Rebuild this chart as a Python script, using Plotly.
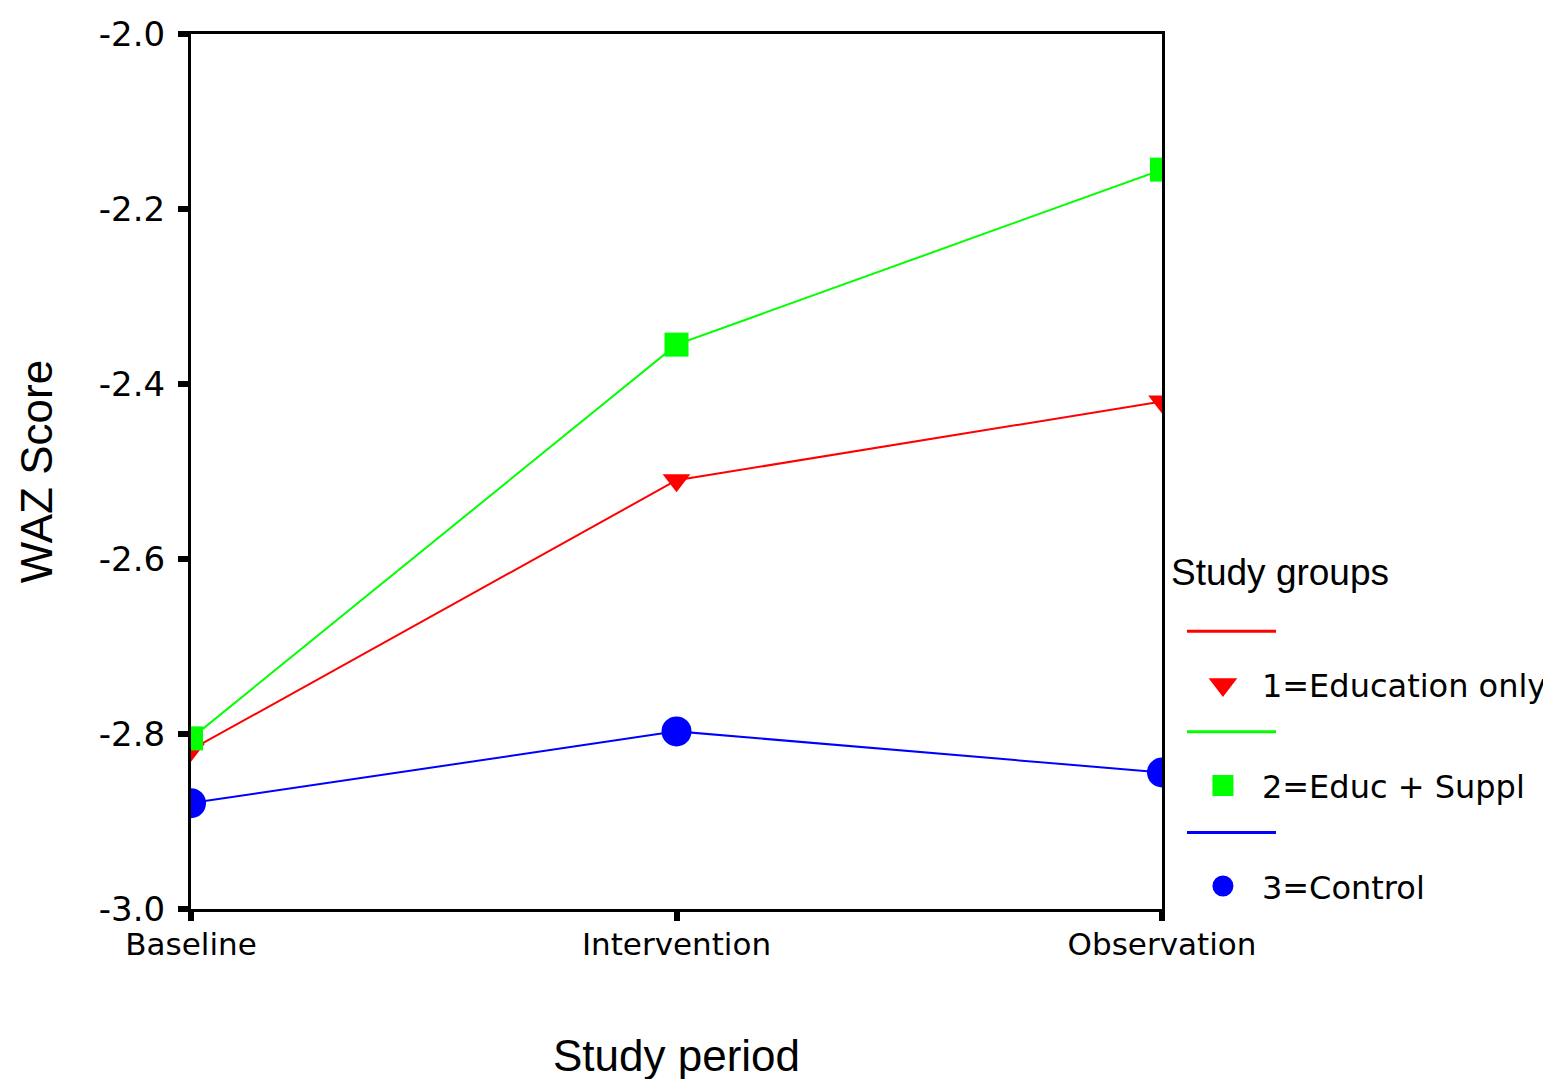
import plotly.graph_objects as go

periods = ["Baseline", "Intervention", "Observation"]
edu_only = [-2.818, -2.510, -2.420]
edu_suppl = [-2.805, -2.355, -2.155]
control = [-2.879, -2.797, -2.844]
y_ticks = [-3.0, -2.8, -2.6, -2.4, -2.2, -2.0]
y_tick_labels = ["-3.0", "-2.8", "-2.6", "-2.4", "-2.2", "-2.0"]

series = [
    ("1=Education only", edu_only, "#ff0000", "triangle-down", 24),
    ("2=Educ + Suppl", edu_suppl, "#00ff00", "square", 24),
    ("3=Control", control, "#0000ff", "circle", 30),
]

xs = list(range(len(periods)))
fig = go.Figure()

for name, vals, color, sym, size in series:
    fig.add_trace(go.Scatter(
        x=xs, y=vals, mode="lines+markers", showlegend=False,
        line=dict(color=color, width=2),
        marker=dict(symbol=sym, size=size, color=color),
        cliponaxis=True,
    ))

# legend entries: line row (legend2), then marker row with label (legend)
for i, (name, vals, color, sym, size) in enumerate(series):
    fig.add_trace(go.Scatter(
        x=[None], y=[None], mode="lines", name=" ",
        line=dict(color=color, width=3),
        legend="legend2", legendgroup=f"l{i}", showlegend=True,
    ))
    fig.add_trace(go.Scatter(
        x=[None], y=[None], mode="markers", name=name,
        marker=dict(symbol=sym, size=16, color=color, line=dict(color=color, width=5)),
        legend="legend", legendgroup=f"m{i}", showlegend=True,
    ))

fig.update_layout(
    width=1551, height=1079,
    paper_bgcolor="white", plot_bgcolor="white",
    margin=dict(l=183, r=397, t=26, b=178, autoexpand=False),
    font=dict(family="DejaVu Sans", color="black"),
    xaxis=dict(
        range=[0, 2], tickvals=xs, ticktext=periods, automargin=False,
        showline=True, linecolor="black", linewidth=3, mirror=True,
        ticks="outside", ticklen=9, tickwidth=6, tickcolor="black",
        showgrid=False, zeroline=False,
        tickfont=dict(family="DejaVu Sans", size=31),
        ticklabelstandoff=-3,
        title=dict(text="Study period", font=dict(family="Liberation Sans", size=44), standoff=79),
    ),
    yaxis=dict(
        range=[-3.0, -2.0], tickvals=y_ticks, ticktext=y_tick_labels, automargin=False,
        showline=True, linecolor="black", linewidth=3, mirror=True,
        ticks="outside", ticklen=10, tickwidth=6, tickcolor="black",
        showgrid=False, zeroline=False,
        tickfont=dict(family="DejaVu Sans", size=34),
        ticklabelstandoff=6,
        title=dict(text="WAZ Score", font=dict(family="Liberation Sans", size=44), standoff=33),
    ),
    legend=dict(
        x=1.0226, y=0.2874, xanchor="left", yanchor="top",
        font=dict(family="DejaVu Sans", size=32),
        itemwidth=68, tracegroupgap=56,
        bgcolor="rgba(0,0,0,0)",
    ),
    legend2=dict(
        x=1.0206, y=0.3487, xanchor="left", yanchor="top",
        font=dict(family="DejaVu Sans", size=32),
        itemwidth=89, tracegroupgap=56,
        bgcolor="rgba(0,0,0,0)",
    ),
    annotations=[dict(
        text="Study groups", xref="paper", yref="paper",
        x=1.0072, y=0.385, xanchor="left", yanchor="middle",
        showarrow=False, font=dict(family="Liberation Sans", size=37, color="black"),
    )],
)

fig.write_html("out.html")
